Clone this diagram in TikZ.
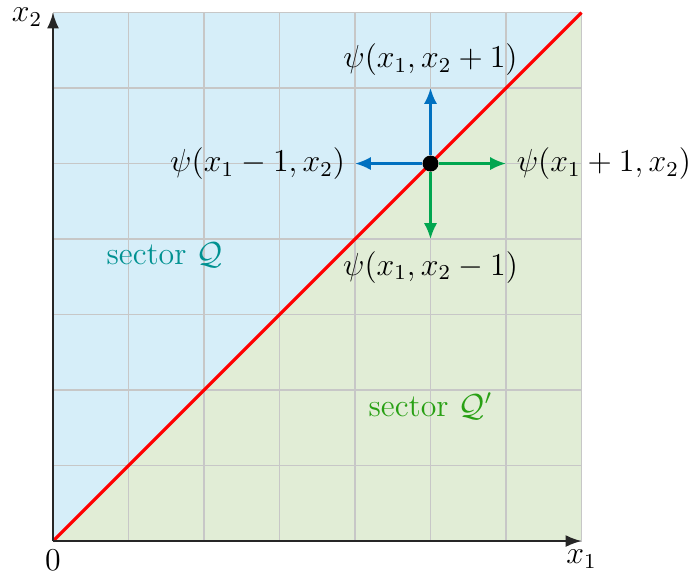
\documentclass[tikz,border=0pt]{standalone}
\usetikzlibrary{arrows.meta}
\definecolor{qblue}{RGB}{214,238,249}
\definecolor{qgreen}{RGB}{225,237,214}
\definecolor{qteal}{RGB}{0,145,145}
\definecolor{qgtext}{RGB}{40,160,20}
\definecolor{arrblue}{RGB}{0,112,192}
\definecolor{arrgreen}{RGB}{0,166,80}
\tikzset{
  lbl/.style={font=\large, inner sep=1pt},
  nbarrow/.style={-{Latex[length=6pt,width=5pt]}, line width=0.9pt},
  axisarrow/.style={-{Latex[length=6pt,width=4.5pt]}, line width=0.6pt, black!85},
}
\begin{document}
\begin{tikzpicture}
\useasboundingbox (-0.702,-0.517) rectangle (8.45,7.166);
\fill[qblue] (0,0) -- (0,7) -- (7,7) -- cycle;
\fill[qgreen] (0,0) -- (7,0) -- (7,7) -- cycle;
\draw[black!22, line width=0.5pt] (0,0) grid (7,7);
\coordinate (O) at (0,0);
\coordinate (X) at (7,0);
\coordinate (Y) at (0,7);
\coordinate (T) at (7,7);
\draw[red, line width=1.2pt] (O) -- (T);
\draw[axisarrow] (O) -- (X);
\draw[axisarrow] (O) -- (Y);
\node[lbl, anchor=north] (x1) at (7,-0.08) {$x_1$};
\node[lbl, anchor=east] (x2) at (-0.1,6.94) {$x_2$};
\node[lbl, anchor=north] (zero) at (0,-0.08) {$0$};
\node[circle, fill=black, inner sep=0pt, minimum size=6pt] (c) at (5,5) {};
\coordinate (up) at (5,6);
\coordinate (dn) at (5,4);
\coordinate (lf) at (4,5);
\coordinate (rt) at (6,5);
\draw[nbarrow, arrblue] (c) -- (up);
\draw[nbarrow, arrblue] (c) -- (lf);
\draw[nbarrow, arrgreen] (c) -- (rt);
\draw[nbarrow, arrgreen] (c) -- (dn);
\node[lbl, anchor=south] (lu) at (5,6.12) {$\psi(x_1,x_2+1)$};
\node[lbl, anchor=east] (ll) at (3.91,5) {$\psi(x_1-1,x_2)$};
\node[lbl, anchor=west] (lr) at (6.1,5) {$\psi(x_1+1,x_2)$};
\node[lbl, anchor=north] (ld) at (5,3.88) {$\psi(x_1,x_2-1)$};
\node[lbl, text=qteal] (sq) at (1.48,3.79) {sector $\mathcal{Q}$};
\node[lbl, text=qgtext] (sqp) at (5.0,1.79) {sector $\mathcal{Q}'$};
\end{tikzpicture}
\end{document}
